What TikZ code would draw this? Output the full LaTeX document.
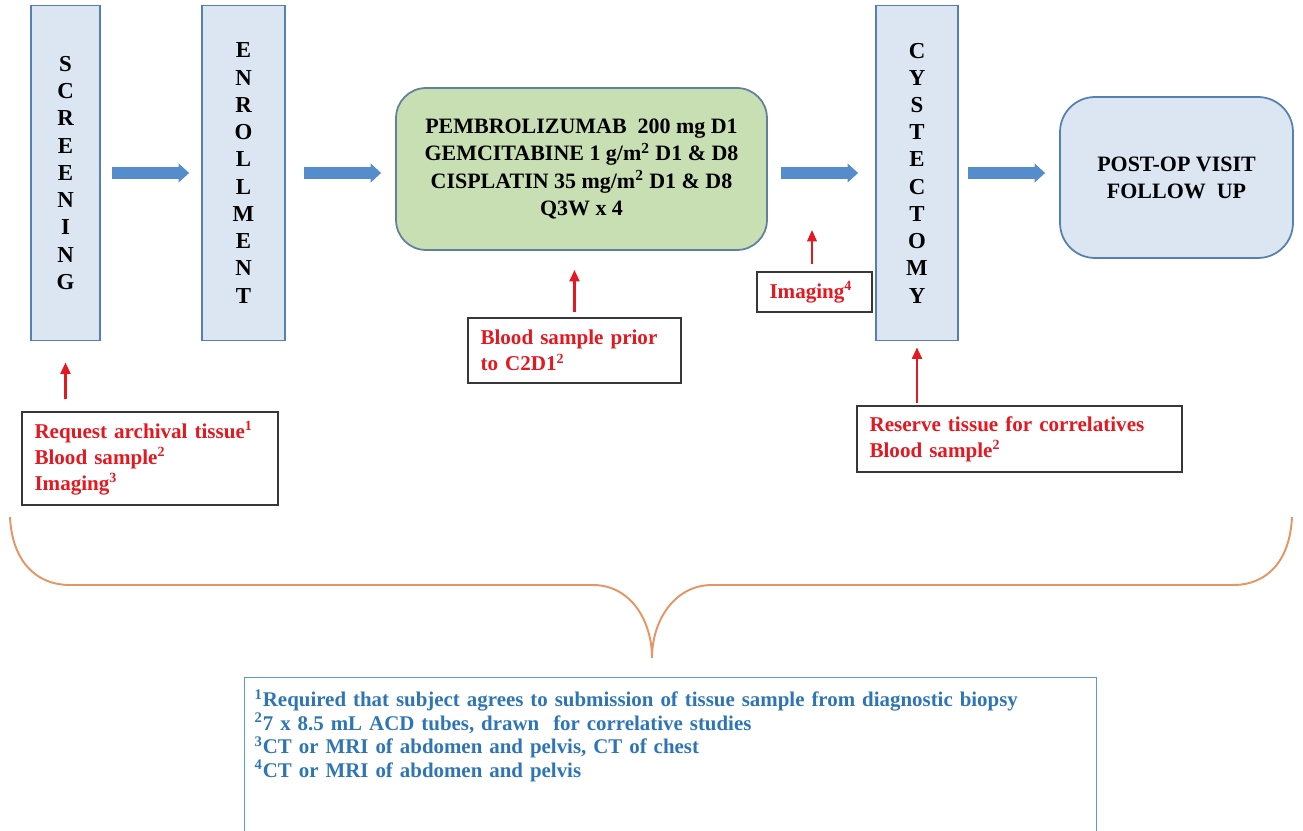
\documentclass[tikz,border=0pt]{standalone}
\usepackage{fontspec}
\setmainfont{Liberation Serif}
\usetikzlibrary{arrows.meta}
\definecolor{boxblue}{RGB}{220,230,242}
\definecolor{boxline}{RGB}{84,128,178}
\definecolor{boxgreen}{RGB}{200,223,180}
\definecolor{greenline}{RGB}{96,128,158}
\definecolor{arrowblue}{RGB}{84,140,204}
\definecolor{notered}{RGB}{228,24,32}
\definecolor{notegray}{RGB}{55,55,55}
\definecolor{footblue}{RGB}{46,117,182}
\definecolor{footline}{RGB}{91,155,213}
\definecolor{braceline}{RGB}{228,150,100}
\begin{document}
\begin{tikzpicture}[
        x=0.02cm, y=-0.02cm,
        every node/.style={font=\bfseries},
        stage/.style={draw=boxline, line width=1pt, fill=boxblue, minimum height=6.7cm,
            align=center, inner sep=0pt, font=\bfseries\fontsize{13}{15.5}\selectfont},
        treatment/.style={draw=greenline, line width=1pt, fill=boxgreen, rounded corners=0.6cm,
            minimum width=7.42cm, minimum height=3.24cm, align=center,
            font=\bfseries\fontsize{12.5}{15.4}\selectfont},
        visit/.style={draw=boxline, line width=1pt, fill=boxblue, rounded corners=0.7cm,
            minimum width=4.66cm, minimum height=3.22cm, align=center,
            font=\bfseries\fontsize{12.5}{15.4}\selectfont},
        note/.style={draw=notegray, line width=0.8pt, text=notered, align=left,
            inner xsep=0.25cm, font=\bfseries\fontsize{12}{14.8}\selectfont},
        flow/.style={draw=arrowblue, line width=6.8pt, -{Triangle[length=6pt,width=10.5pt]}},
        sample/.style={draw=notered, line width=1.5pt, -{Triangle[length=6.5pt,width=5.5pt]}},
        brace/.style={draw=braceline, line width=1.1pt}
        ]
        \useasboundingbox (0,0) rectangle (1303,831);

        \node[stage, minimum width=1.38cm] (screen) at (65.5,173)
            {S\\C\\R\\E\\E\\N\\I\\N\\G};
        \node[stage, minimum width=1.66cm] (enrol) at (243.5,173)
            {E\\N\\R\\O\\L\\L\\M\\E\\N\\T};
        \node[treatment] (regimen) at (581.5,169)
            {PEMBROLIZUMAB\ \ 200 mg D1\\
             GEMCITABINE 1 g/m\textsuperscript{2} D1 \& D8\\
             CISPLATIN 35 mg/m\textsuperscript{2} D1 \& D8\\
             Q3W x 4};
        \node[stage, minimum width=1.64cm] (cyst) at (917,173)
            {C\\Y\\S\\T\\E\\C\\T\\O\\M\\Y};
        \node[visit] (postop) at (1176.5,177.5) {POST-OP VISIT\\FOLLOW\ \ UP};

        \node[note, text width=4.62cm, minimum height=1.86cm] (baseline) at (150,458.5)
            {Request archival tissue\textsuperscript{1}\\
             Blood sample\textsuperscript{2}\\
             Imaging\textsuperscript{3}};
        \node[note, text width=3.76cm, minimum height=1.3cm] (blood) at (574.5,350.5)
            {Blood sample prior\\to C2D1\textsuperscript{2}};
        \node[note, text width=1.8cm, minimum height=0.8cm] (imaging) at (814.5,292)
            {Imaging\textsuperscript{4}};
        \node[note, text width=6cm, minimum height=1.32cm] (reserve) at (1019.5,439)
            {Reserve tissue for correlatives\\Blood sample\textsuperscript{2}};

        \node[draw=footline, line width=0.8pt, text=footblue, anchor=north west, align=left,
            text width=16.64cm, inner xsep=0.2cm, inner ysep=0pt, text height=0.58cm, text depth=3.1cm,
            font=\bfseries\fontsize{11.9}{13.4}\selectfont] (footnotes) at (244,677)
            {\textsuperscript{1}Required that subject agrees to submission of tissue sample from diagnostic biopsy\\
             \textsuperscript{2}7 x 8.5 mL ACD tubes, drawn\ \ for correlative studies\\
             \textsuperscript{3}CT or MRI of abdomen and pelvis, CT of chest\\
             \textsuperscript{4}CT or MRI of abdomen and pelvis};

        \draw[flow, shorten <=0.22cm, shorten >=0.24cm] (screen) -- (enrol);
        \draw[flow, shorten <=0.36cm, shorten >=0.28cm] (enrol) -- (enrol -| regimen.west);
        \draw[flow, shorten <=0.26cm, shorten >=0.34cm] (cyst -| regimen.east) -- (cyst);
        \draw[flow, shorten <=0.18cm, shorten >=0.28cm] (cyst) -- (cyst -| postop.west);

        \coordinate (imgtip) at (812,230);
        \draw[sample, shorten <=0.24cm, shorten >=0.42cm] (screen.south |- baseline.north) -- (screen.south);
        \draw[sample, shorten <=0.1cm, shorten >=0.38cm] (blood.north) -- (blood.north |- regimen.south);
        \draw[sample, line width=1.1pt, shorten <=0.14cm] (imaging.north -| imgtip) -- (imgtip);
        \draw[sample, shorten <=0.04cm, shorten >=0.12cm] (cyst.south |- reserve.north) -- (cyst.south);

        \coordinate (bracetip) at (652,658);
        \draw[brace] (10,517) .. controls (12,560) and (35,585) .. (70,585) -- (593,585)
            .. controls (630,585) and (652,620) .. (bracetip)
            .. controls (652,620) and (675,585) .. (712,585) -- (1233,585)
            .. controls (1268,585) and (1290,560) .. (1292,517);
    \end{tikzpicture}
\end{document}
